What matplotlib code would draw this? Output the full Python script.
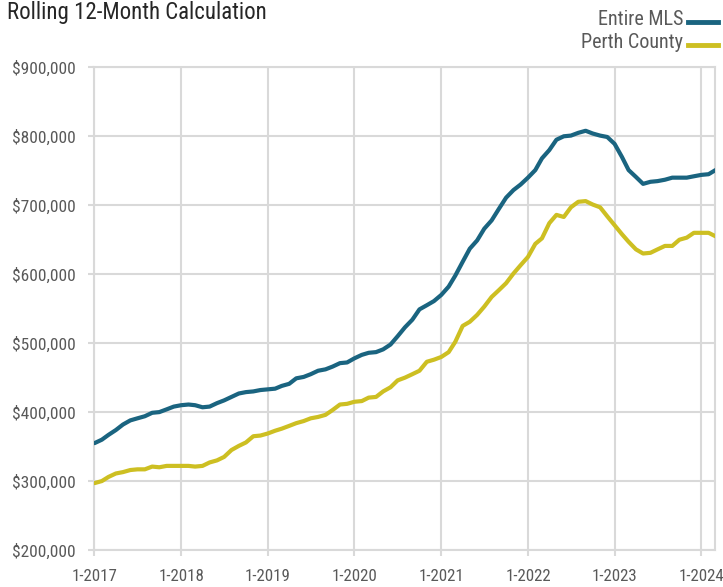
import matplotlib
matplotlib.use("Agg")
import matplotlib.pyplot as plt
from matplotlib.ticker import FuncFormatter
import pandas as pd

plt.rcParams['font.family'] = ['Roboto Condensed', 'Open Sans Condensed', 'DejaVu Sans']
plt.rcParams['font.weight'] = 'normal'

months = pd.date_range("2017-01-01", "2024-03-01", freq="MS")

entire_mls = [
    355, 360, 367, 374, 382, 388, 391, 394, 399, 400, 404, 408,
    410, 411, 410, 407, 408, 413, 417, 422, 427, 429, 430, 432,
    433, 434, 438, 441, 449, 451, 455, 460, 462, 466, 471, 472,
    478, 483, 486, 487, 491, 498, 510, 523, 534, 549, 555, 561,
    570, 582, 598, 618, 637, 649, 666, 678, 695, 711, 722, 730,
    740, 751, 768, 780, 795, 800, 801, 805, 808, 804, 801, 799,
    789, 770, 751, 741, 731, 734, 735, 737, 740, 740, 740, 742,
    744, 745, 751,
]
perth_county = [
    297, 300, 306, 311, 313, 316, 317, 317, 321, 320, 322, 322,
    322, 322, 321, 322, 327, 330, 335, 345, 351, 356, 365, 366,
    369, 373, 376, 380, 384, 387, 391, 393, 396, 403, 411, 412,
    415, 416, 421, 422, 430, 436, 446, 450, 455, 460, 473, 476,
    480, 487, 502, 525, 531, 541, 553, 567, 577, 587, 601, 613,
    625, 644, 652, 674, 686, 683, 697, 705, 706, 701, 697, 684,
    671, 658, 647, 636, 630, 631, 636, 641, 641, 650, 653, 660,
    660, 660, 655,
]
entire_mls = [v * 1000 for v in entire_mls]
perth_county = [v * 1000 for v in perth_county]

series_names = ["Entire MLS", "Perth County"]
colors = ["#1a6480", "#cdbf22"]
y_ticks = [200000, 300000, 400000, 500000, 600000, 700000, 800000, 900000]
x_tick_years = list(range(2017, 2025))

grid_c = "#d9d9d9"
text_c = "#595959"

fig = plt.figure(figsize=(7.23, 5.87), dpi=100)
ax = fig.add_axes([0.1307, 0.063, 0.8589, 0.8223])

ax.plot(months, entire_mls, color=colors[0], lw=3.0, solid_capstyle="round", zorder=3)
ax.plot(months, perth_county, color=colors[1], lw=3.0, solid_capstyle="round", zorder=3)

ax.set_xlim(months[0], months[-1])
ax.set_ylim(200000, 900000)
ax.set_yticks(y_ticks)
ax.yaxis.set_major_formatter(FuncFormatter(lambda v, p: f"${int(v):,}"))
xt = [pd.Timestamp(f"{y}-01-01") for y in x_tick_years]
ax.set_xticks(xt)
ax.set_xticklabels([f"1-{y}" for y in x_tick_years])

ax.grid(True, color=grid_c, lw=1.5, zorder=0)
for s in ax.spines.values():
    s.set_color(grid_c)
    s.set_linewidth(1.5)
ax.tick_params(axis="both", color=grid_c, length=4.5, width=1.5,
               labelcolor=text_c, labelsize=12.5)
ax.tick_params(axis="y", pad=9)
ax.tick_params(axis="x", pad=9, labelsize=12.2)

fig.text(0.010, 0.979, "Rolling 12-Month Calculation", fontsize=16.5, color="#262626",
         ha="left", va="center")

# legend
leg_y = [0.966, 0.927]
for name, c, yy in zip(series_names, colors, leg_y):
    fig.text(0.945, yy, name, fontsize=14.5, color=text_c, ha="right", va="center")
    fig.add_artist(plt.Line2D([0.952, 0.993], [yy - 0.004, yy - 0.004], color=c, lw=3.5,
                              transform=fig.transFigure))

fig.savefig("out.png", dpi=100)
